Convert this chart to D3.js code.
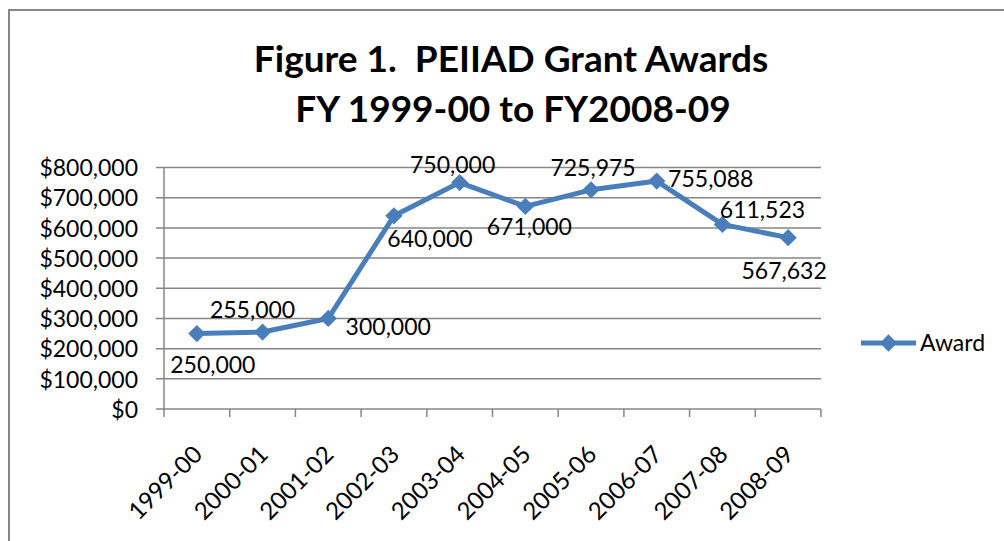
<!DOCTYPE html>
<html>
<head>
<script src="https://d3js.org/d3.v7.min.js"></script>
<style>
  body {margin: 0; background: #fff; font-family: Lato, sans-serif;}
  .title {font: bold 37px Lato, sans-serif; white-space: pre;}
  .axis text {font: 23px Lato, sans-serif; fill: #000;}
  .axis .domain {display: none;}
  .lbl {font: 23px Lato, sans-serif; fill: #000;}
</style>
</head>
<body>
<svg id="chart" width="1004" height="541"></svg>
<script>
// data
var years = ["1999-00", "2000-01", "2001-02", "2002-03", "2003-04", "2004-05", "2005-06", "2006-07", "2007-08", "2008-09"];
var awards = [250000, 255000, 300000, 640000, 750000, 671000, 725975, 755088, 611523, 567632];
var yTicks = [0, 100000, 200000, 300000, 400000, 500000, 600000, 700000, 800000];
var seriesName = "Award";

// where each data label sits relative to its point (x, y baseline)
var labelOffsets = [[16, 39], [-10, -14], [60, 17], [36, 31], [-7, -10], [4, 29], [2, -14], [54, 6], [40, -6], [-4, 41]];

var svg = d3.select("#chart"),
    margin = {top: 167.5, left: 164, right: 183, bottom: 132},
    width = 1004 - margin.left - margin.right,
    height = 541 - margin.top - margin.bottom;

var blue = "#4a7ebb", grey = "#868686";

// chart frame
svg.append("rect")
    .attr("x", 9).attr("y", 10)
    .attr("width", 1100).attr("height", 700)
    .attr("fill", "none")
    .attr("stroke", grey)
    .attr("stroke-width", 2);

svg.append("text").attr("class", "title")
    .attr("x", 511).attr("y", 72)
    .attr("text-anchor", "middle")
    .text("Figure 1.  PEIIAD Grant Awards");
svg.append("text").attr("class", "title")
    .attr("x", 513).attr("y", 122)
    .attr("text-anchor", "middle")
    .text("FY 1999-00 to FY2008-09");

var g = svg.append("g").attr("transform", "translate(" + margin.left + "," + margin.top + ")");

var x = d3.scaleBand().domain(years).range([0, width]);
var y = d3.scaleLinear().domain([0, 800000]).range([height, 0]);

// gridlines
g.append("g")
    .selectAll("line")
    .data(yTicks)
    .enter().append("line")
    .attr("x1", -8).attr("x2", width)
    .attr("y1", function(d) { return y(d); })
    .attr("y2", function(d) { return y(d); })
    .attr("stroke", grey)
    .attr("stroke-width", 1.5);

// y axis
var yAxis = g.append("g").attr("class", "axis")
    .call(d3.axisLeft(y).tickValues(yTicks).tickSize(0).tickPadding(26)
        .tickFormat(function(d) { return "$" + d3.format(",")(d); }));
yAxis.selectAll("text").attr("dy", "0.36em");

g.append("line")
    .attr("x1", 0).attr("x2", 0)
    .attr("y1", 0).attr("y2", height)
    .attr("stroke", grey).attr("stroke-width", 1.5);

// x axis ticks at band edges
var edges = years.map(function(d) { return x(d); }).concat([width]);
g.append("g")
    .selectAll("line")
    .data(edges)
    .enter().append("line")
    .attr("x1", function(d) { return d; })
    .attr("x2", function(d) { return d; })
    .attr("y1", height).attr("y2", height + 8)
    .attr("stroke", grey).attr("stroke-width", 1.5);

g.append("g")
    .attr("class", "axis")
    .selectAll("text")
    .data(years)
    .enter().append("text")
    .attr("transform", function(d) {
        return "translate(" + (x(d) + x.bandwidth() / 2 + 1) + "," + (height + 41) + ") rotate(-45)";
    })
    .attr("text-anchor", "end")
    .attr("dy", "0.35em")
    .style("font-size", "24px")
    .text(function(d) { return d; });

// line
var cx = function(d, i) { return x(years[i]) + x.bandwidth() / 2; };
var line = d3.line()
    .x(cx)
    .y(function(d) { return y(d); });

g.append("path")
    .datum(awards)
    .attr("d", line)
    .attr("fill", "none")
    .attr("stroke", blue)
    .attr("stroke-width", 5)
    .attr("stroke-linejoin", "round");

var diamond = d3.symbol().type(d3.symbolDiamond2).size(190);
g.append("g")
    .selectAll("path")
    .data(awards)
    .enter().append("path")
    .attr("d", diamond)
    .attr("transform", function(d, i) { return "translate(" + cx(d, i) + "," + y(d) + ")"; })
    .attr("fill", blue);

g.append("g")
    .selectAll("text")
    .data(awards)
    .enter().append("text")
    .attr("class", "lbl")
    .attr("text-anchor", "middle")
    .attr("x", function(d, i) { return cx(d, i) + labelOffsets[i][0]; })
    .attr("y", function(d, i) { return y(d) + labelOffsets[i][1]; })
    .text(function(d) { return d3.format(",")(d); });

// legend
var legend = svg.append("g").attr("transform", "translate(861,343)");
legend.append("line")
    .attr("x1", 0).attr("x2", 55)
    .attr("stroke", blue).attr("stroke-width", 5);
legend.append("path")
    .attr("d", diamond)
    .attr("transform", "translate(27.5,0)")
    .attr("fill", blue);
legend.append("text")
    .attr("class", "lbl")
    .attr("x", 59).attr("y", 8)
    .text(seriesName);
</script>
</body>
</html>
